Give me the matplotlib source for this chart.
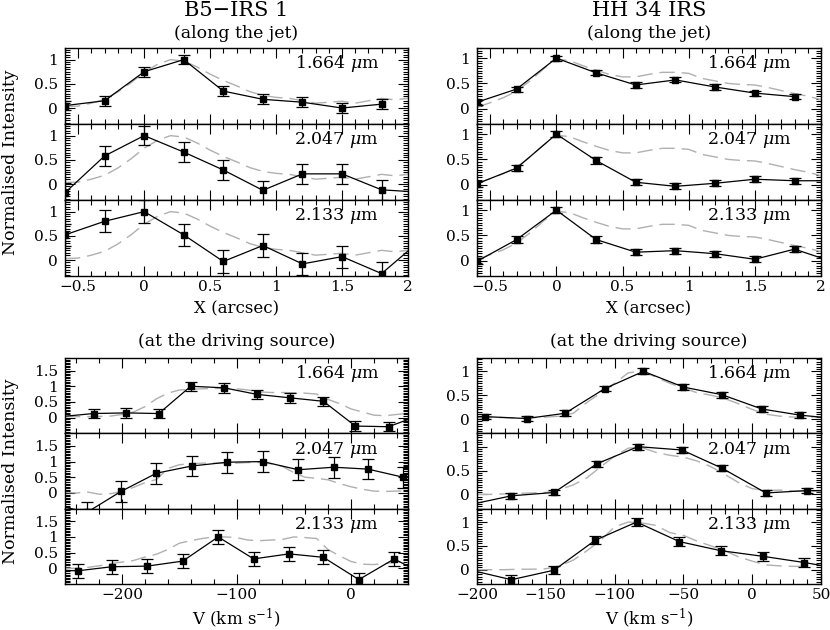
import numpy as np
import matplotlib
matplotlib.use("Agg")
import matplotlib.pyplot as plt
from matplotlib.ticker import MultipleLocator, FixedLocator, FuncFormatter

plt.rcParams['font.family'] = 'DejaVu Serif'
plt.rcParams['mathtext.fontset'] = 'dejavuserif'

nan = np.nan

# ---- along the jet (X offsets, arcsec) ----
jet_x = [-0.6, -0.3, 0.0, 0.3, 0.6, 0.9, 1.2, 1.5, 1.8, 2.1]

b5_jet_1664 = [0.05, 0.15, 0.75, 1.0, 0.35, 0.18, 0.12, 0.0, 0.08, nan]
b5_jet_2047 = [-0.18, 0.58, 1.0, 0.66, 0.29, -0.13, 0.21, 0.21, -0.12, -0.17]
b5_jet_2133 = [0.52, 0.8, 1.0, 0.52, -0.03, 0.3, -0.08, 0.07, -0.28, 0.42]
b5_jet_err = [0.1, 0.2, 0.23]

hh_jet_1664 = [0.13, 0.39, 1.0, 0.71, 0.47, 0.57, 0.43, 0.31, 0.24, nan]
hh_jet_2047 = [0.02, 0.33, 1.0, 0.48, 0.05, -0.03, 0.03, 0.11, 0.08, 0.08]
hh_jet_2133 = [-0.01, 0.42, 1.0, 0.42, 0.17, 0.2, 0.14, 0.03, 0.23, -0.03]
hh_jet_err = [0.05, 0.06, 0.06]

model_jet_x = [-0.6, -0.5, -0.4, -0.3, -0.2, -0.1, 0.0, 0.1, 0.2, 0.3, 0.4, 0.5, 0.6,
               0.7, 0.8, 0.9, 1.0, 1.1, 1.2, 1.3, 1.4, 1.5, 1.6, 1.7, 1.8, 1.9, 2.0]
b5_jet_model = [0.03, 0.04, 0.1, 0.18, 0.33, 0.52, 0.74, 0.9, 1.0, 0.97, 0.85, 0.7, 0.57,
                0.46, 0.34, 0.26, 0.22, 0.2, 0.15, 0.1, 0.12, 0.14, 0.1, 0.15, 0.2, 0.17, 0.2]
hh_jet_model = [0.03, 0.12, 0.22, 0.35, 0.55, 0.78, 0.98, 0.95, 0.85, 0.76, 0.68, 0.63, 0.63,
                0.68, 0.72, 0.72, 0.7, 0.6, 0.55, 0.5, 0.48, 0.47, 0.42, 0.36, 0.3, 0.25, 0.18]

# ---- at the driving source (velocity, km/s) ----
b5_v_1664 = [-254, -225, -197, -168, -140, -111, -82, -53, -24, 4, 33, 62]
b5_src_1664 = [0.03, 0.13, 0.15, 0.13, 1.0, 0.95, 0.74, 0.63, 0.52, -0.27, -0.29, 0.1]
b5_v_2047 = [-262, -231, -201, -170, -139, -108, -77, -46, -15, 15, 46]
b5_src_2047 = [-0.34, -0.62, 0.05, 0.63, 0.86, 0.98, 1.0, 0.74, 0.82, 0.76, 0.5]
b5_v_2133 = [-269, -239, -209, -178, -147, -116, -85, -54, -24, 7, 38, 69]
b5_src_2133 = [-0.05, -0.08, 0.05, 0.07, 0.23, 1.0, 0.3, 0.46, 0.35, -0.36, 0.3, -0.3]
b5_src_err = [0.15, 0.33, 0.22]

b5_model_v = list(range(-250, 51, 10))
b5_src_model_1664 = [0.04, 0.03, 0.03, 0.04, 0.05, 0.1, 0.18, 0.35, 0.6, 0.78, 0.88, 0.9, 0.92,
                     0.93, 0.93, 0.92, 0.88, 0.82, 0.8, 0.8, 0.79, 0.78, 0.75, 0.58, 0.45, 0.28,
                     0.18, 0.08, 0.06, 0.1, 0.14]
b5_src_model_2047 = [0.02, 0.0, 0.03, -0.04, -0.02, 0.05, 0.18, 0.33, 0.43, 0.78, 0.9, 0.93, 0.95,
                     0.95, 0.95, 0.95, 0.97, 0.97, 0.93, 0.85, 0.65, 0.5, 0.47, 0.42, 0.3, 0.2,
                     0.12, 0.06, 0.05, 0.06, 0.07]
b5_src_model_2133 = [0.0, 0.0, 0.03, 0.08, 0.15, 0.2, 0.25, 0.36, 0.45, 0.6, 0.8, 0.88, 0.95,
                     1.0, 1.0, 0.98, 0.9, 0.88, 0.9, 0.92, 1.0, 0.98, 0.95, 0.6, 0.4, 0.22,
                     0.13, 0.12, 0.15, 0.2, 0.18]

hh_v_1664 = [-223, -194, -164, -136, -107, -79, -50, -22, 7, 35, 64]
hh_src_1664 = [0.05, 0.05, 0.01, 0.12, 0.64, 1.0, 0.67, 0.51, 0.21, 0.08, 0.0]
hh_v_2047 = [-206, -175, -144, -113, -83, -51, -22, 10, 40, 70]
hh_src_2047 = [-0.22, -0.03, 0.04, 0.64, 1.0, 0.93, 0.55, 0.03, 0.08, 0.08]
hh_v_2133 = [-206, -175, -144, -114, -84, -53, -23, 8, 38, 68]
hh_src_2133 = [0.0, -0.21, -0.01, 0.62, 1.0, 0.59, 0.4, 0.28, 0.15, 0.0]
hh_src_err = [0.06, 0.06, 0.09]

hh_model_v = list(range(-200, 51, 10))
hh_src_model_1664 = [0.03, 0.03, 0.03, 0.02, 0.03, 0.04, 0.06, 0.12, 0.35, 0.55, 0.75, 0.97, 1.0,
                     0.88, 0.75, 0.65, 0.55, 0.5, 0.43, 0.32, 0.2, 0.1, 0.06, 0.04, 0.04, 0.05]
hh_src_model_2047 = [0.0, 0.0, 0.01, 0.02, 0.03, 0.04, 0.1, 0.2, 0.35, 0.58, 0.8, 0.97, 0.98,
                     0.88, 0.82, 0.78, 0.7, 0.58, 0.42, 0.25, 0.12, 0.08, 0.09, 0.07, 0.07, 0.06]
hh_src_model_2133 = [0.0, 0.0, 0.0, 0.01, 0.01, 0.02, 0.08, 0.2, 0.4, 0.62, 0.9, 1.0, 0.98,
                     0.93, 0.78, 0.72, 0.6, 0.5, 0.4, 0.27, 0.18, 0.1, 0.08, 0.07, 0.07, nan]

lines = ['1.664', '2.047', '2.133']

W, H = 830, 630
fig = plt.figure(figsize=(W / 100, H / 100), dpi=100)


def fmt(v, pos):
    s = '%g' % round(v, 6)
    return s.replace('-', '\u2212')


def make_panel(x0, x1, ytop, ybot):
    return fig.add_axes([x0 / W, 1 - ybot / H, (x1 - x0) / W, (ybot - ytop) / H])


def style(ax, xlim, ylim, xmaj, xmin, yticks, bottom_labels):
    ax.set_xlim(*xlim)
    ax.set_ylim(*ylim)
    ax.xaxis.set_major_locator(MultipleLocator(xmaj))
    ax.xaxis.set_minor_locator(MultipleLocator(xmin))
    ax.yaxis.set_major_locator(FixedLocator(yticks))
    ax.yaxis.set_minor_locator(MultipleLocator(0.05))
    ax.xaxis.set_major_formatter(FuncFormatter(fmt))
    ax.yaxis.set_major_formatter(FuncFormatter(fmt))
    ax.tick_params(which='both', direction='in', top=True, right=True, width=0.8,
                   labelsize=11, pad=5)
    ax.tick_params(axis='x', which='major', pad=3)
    ax.tick_params(which='major', length=7)
    ax.tick_params(which='minor', length=3.5)
    if not bottom_labels:
        ax.tick_params(labelbottom=False)
    for sp in ax.spines.values():
        sp.set_linewidth(1.0)


def draw(ax, x, y, err, mx, my, label):
    ax.plot(mx, my, color='#b0b0b0', lw=1.0, dashes=(11, 5))
    ax.errorbar(x, y, yerr=err, fmt='s-', color='black', ms=5, lw=0.9,
                elinewidth=0.9, capsize=4, capthick=0.9)
    ax.text(0.915, 0.79, label + r' $\mu$m', transform=ax.transAxes,
            ha='right', va='center', fontsize=12.5)


cols = [(65, 408), (477, 821)]
top_rows = [(48, 124), (124, 200), (200, 276)]
bot_rows = [(358, 433.3), (433.3, 508.7), (508.7, 584)]

jet_sets = [
    ([b5_jet_1664, b5_jet_2047, b5_jet_2133], b5_jet_err, b5_jet_model, (-0.33, 1.24)),
    ([hh_jet_1664, hh_jet_2047, hh_jet_2133], hh_jet_err, hh_jet_model, (-0.3, 1.2)),
]
src_sets = [
    ([b5_v_1664, b5_v_2047, b5_v_2133], [b5_src_1664, b5_src_2047, b5_src_2133], b5_src_err,
     b5_model_v, [b5_src_model_1664, b5_src_model_2047, b5_src_model_2133],
     (-250, 50), (-0.5, 1.9), 100, 20, [0, 0.5, 1, 1.5]),
    ([hh_v_1664, hh_v_2047, hh_v_2133], [hh_src_1664, hh_src_2047, hh_src_2133], hh_src_err,
     hh_model_v, [hh_src_model_1664, hh_src_model_2047, hh_src_model_2133],
     (-200, 50), (-0.3, 1.28), 50, 10, [0, 0.5, 1]),
]

for c, (x0, x1) in enumerate(cols):
    ys, errs, model, ylim = jet_sets[c]
    for r, (yt, yb) in enumerate(top_rows):
        ax = make_panel(x0, x1, yt, yb)
        draw(ax, jet_x, ys[r], errs[r], model_jet_x, model, lines[r])
        style(ax, (-0.6, 2.0), ylim, 0.5, 0.1, [0, 0.5, 1], r == 2)

    vs, ys, errs, mv, models, xlim, ylim, xmaj, xmin, yt_ = src_sets[c]
    for r, (yt, yb) in enumerate(bot_rows):
        ax = make_panel(x0, x1, yt, yb)
        draw(ax, vs[r], ys[r], errs[r], mv, models[r], lines[r])
        style(ax, xlim, ylim, xmaj, xmin, yt_, r == 2)

# column titles, section headings and axis labels
for (x0, x1), name in zip(cols, ['B5\u2212IRS 1', 'HH 34 IRS']):
    xc = (x0 + x1) / 2 / W
    fig.text(xc, 1 - 11 / H, name, ha='center', va='center', fontsize=15)
    fig.text(xc, 1 - 33 / H, '(along the jet)', ha='center', va='center', fontsize=12.5)
    fig.text(xc, 1 - 342 / H, '(at the driving source)', ha='center', va='center', fontsize=12.5)
    fig.text(xc, 1 - 309 / H, 'X (arcsec)', ha='center', va='center', fontsize=12)
    fig.text(xc, 1 - 618 / H, r'V (km s$^{-1}$)', ha='center', va='center', fontsize=12)

fig.text(11 / W, 1 - 162 / H, 'Normalised Intensity', rotation=90, ha='center', va='center',
         fontsize=12.5)
fig.text(11 / W, 1 - 471 / H, 'Normalised Intensity', rotation=90, ha='center', va='center',
         fontsize=12.5)

fig.savefig('out.png', dpi=100)
